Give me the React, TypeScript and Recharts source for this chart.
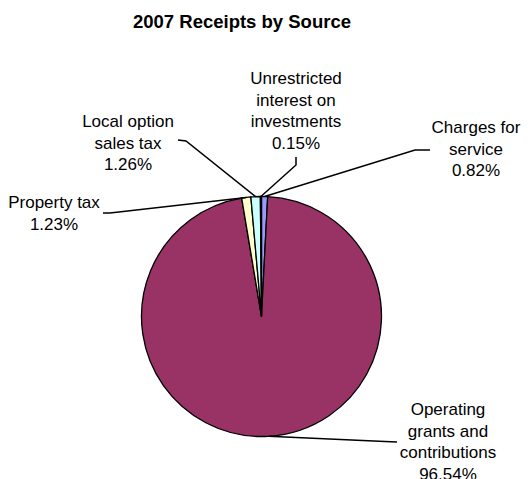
import { PieChart, Pie, Cell } from "recharts";

const categories = [
  "Charges for service",
  "Operating grants and contributions",
  "Property tax",
  "Local option sales tax",
  "Unrestricted interest on investments",
];
const categoryLines = [
  ["Charges for", "service"],
  ["Operating", "grants and", "contributions"],
  ["Property tax"],
  ["Local option", "sales tax"],
  ["Unrestricted", "interest on", "investments"],
];
const shares = [0.82, 96.54, 1.23, 1.26, 0.15];
const colors = ["#9999FF", "#993366", "#FFFFCC", "#CCFFFF", "#660066"];

// label placement (text centre, first baseline, leader line elbow and end)
const labelLayout = [
  { x: 476, y: 133, elbow: [415, 150], end: [430, 150] },
  { x: 448, y: 415, elbow: [385, 441.5], end: [397, 442] },
  { x: 54, y: 208, elbow: [110, 213], end: [103, 213] },
  { x: 128, y: 127, elbow: [186, 141], end: [178, 140] },
  { x: 296, y: 84, elbow: [296, 165], end: [296, 157] },
];

const data = categories.map((name, i) => ({ name, value: shares[i] }));

const RAD = Math.PI / 180;

function renderLabel(props: any) {
  const { cx, cy, midAngle, outerRadius, index } = props;
  const sx = cx + outerRadius * Math.cos(-midAngle * RAD);
  const sy = cy + outerRadius * Math.sin(-midAngle * RAD);
  const lay = labelLayout[index];
  const lines = [...categoryLines[index], `${shares[index].toFixed(2)}%`];
  return (
    <g key={`lbl-${index}`}>
      <polyline
        points={`${sx},${sy} ${lay.elbow[0]},${lay.elbow[1]} ${lay.end[0]},${lay.end[1]}`}
        fill="none"
        stroke="#000"
        strokeWidth={1.5}
      />
      <text
        x={lay.x}
        y={lay.y}
        textAnchor="middle"
        fontFamily="'Liberation Sans', Arial, sans-serif"
        fontSize={17}
        fill="#000"
      >
        {lines.map((t, k) => (
          <tspan key={k} x={lay.x} dy={k === 0 ? 0 : 21.5}>
            {t}
          </tspan>
        ))}
      </text>
    </g>
  );
}

export default function App() {
  return (
    <div style={{ position: "absolute", left: 0, top: 0, width: 531, height: 479, background: "#fff" }}>
      <PieChart width={531} height={479} margin={{ top: 0, right: 0, bottom: 0, left: 0 }}>
        <text
          x={242}
          y={28}
          textAnchor="middle"
          fontFamily="'Liberation Sans', Arial, sans-serif"
          fontSize={18.5}
          fontWeight="bold"
          fill="#000"
        >
          2007 Receipts by Source
        </text>
        <Pie
          data={data}
          dataKey="value"
          nameKey="name"
          cx={261.5}
          cy={316.5}
          outerRadius={120}
          startAngle={90}
          endAngle={-270}
          stroke="#000"
          strokeWidth={1.3}
          label={renderLabel}
          labelLine={false}
          isAnimationActive={false}
        >
          {data.map((d, i) => (
            <Cell key={d.name} fill={colors[i]} />
          ))}
        </Pie>
      </PieChart>
    </div>
  );
}
